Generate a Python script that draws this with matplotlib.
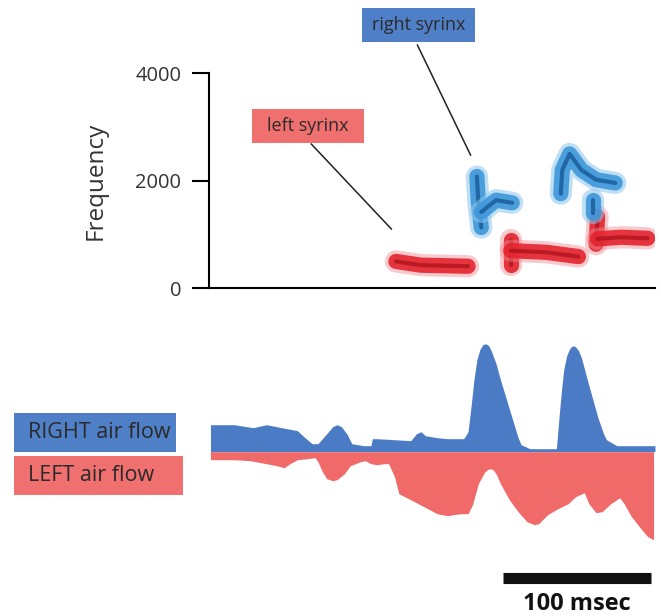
import matplotlib
matplotlib.use('Agg')
import matplotlib.pyplot as plt
from matplotlib.patches import Rectangle

plt.rcParams['font.family'] = ['Open Sans', 'DejaVu Sans']

# --- syllable traces (time in ms, frequency in Hz)
left_traces = [
    ([127, 144, 161, 176], [500, 430, 420, 410]),
    ([205, 205], [430, 890]),
    ([205, 229, 251], [700, 670, 590]),
    ([263, 264], [820, 1330]),
    ([264, 280, 298], [920, 950, 930]),
]
right_traces = [
    ([182, 183, 185], [2080, 1600, 1130]),
    ([185, 195, 206], [1420, 1640, 1590]),
    ([239, 240, 245, 253, 263, 276], [1760, 2200, 2500, 2200, 2020, 1960]),
    ([261, 261], [1640, 1400]),
]

# --- air flow (time in ms, arbitrary units)
right_t = [1, 17, 30, 39, 53, 60, 66, 70, 74, 77, 80, 84, 87, 90, 94, 97, 101, 105,
           110, 111, 114, 126, 137, 141, 144, 147, 155, 162, 173, 176, 178, 180,
           182, 184, 186, 188, 190, 192, 195, 198, 205, 210, 212, 218, 223, 230,
           236, 238, 239.5, 241, 243, 245, 247, 249, 251, 253, 257, 264, 268, 270,
           277, 289, 303]
right_flow = [27, 27, 24, 27, 23, 21, 13, 8, 8, 13, 18, 25, 27, 25, 17, 8, 7, 6,
              6, 13, 13, 12, 11, 18, 20, 16, 14, 13, 13, 20, 45, 72,
              92, 102, 107, 108, 106, 100, 88, 72, 38, 14, 7, 3, 3, 3,
              3, 38, 62, 82, 96, 103, 106, 105, 101, 94, 72, 35, 18, 12,
              6, 6, 6]
left_t = [1, 17, 28, 39, 46, 51, 55, 60, 67, 72, 74, 77, 80, 84, 87, 92, 96, 103,
          106, 110, 114, 119, 122, 126, 129, 137, 146, 155, 162, 166, 171, 176,
          179, 183, 187, 189, 191, 193, 195, 198, 204, 210, 216, 221, 224, 230,
          237, 244, 249, 255, 258, 263, 267, 273, 279, 282, 287, 294, 298, 302]
left_flow = [-8, -8, -9, -12, -14, -16, -12, -8, -7, -6, -10, -20, -27, -29, -28,
             -22, -14, -10, -9, -12, -13, -12, -12, -25, -42, -48, -55, -62, -64,
             -63, -62, -62, -53, -32, -21, -18, -17, -18, -22, -32, -48, -60, -70,
             -73, -72, -63, -57, -52, -45, -41, -52, -61, -60, -52, -46, -52, -65,
             -78, -85, -88]

fig = plt.figure(figsize=(6.61, 6.16), dpi=100)
W, H = 661, 616

def fbox(x0, y0, x1, y1):
    return [x0 / W, 1 - y1 / H, (x1 - x0) / W, (y1 - y0) / H]

# ---------- top: sonogram ----------
ax = fig.add_axes(fbox(209, 73.3, 655, 288.3))
for t, f in left_traces:
    ax.plot(t, f, color='#f28a90', lw=16, solid_capstyle='round', alpha=0.45)
    ax.plot(t, f, color='#e3242e', lw=11, solid_capstyle='round', alpha=0.9)
    ax.plot(t, f, color='#a8101a', lw=3, solid_capstyle='round', alpha=0.7)
for t, f in right_traces:
    ax.plot(t, f, color='#8cc6ee', lw=16, solid_capstyle='round', alpha=0.55)
    ax.plot(t, f, color='#3f97da', lw=11, solid_capstyle='round', alpha=0.9)
    ax.plot(t, f, color='#10508f', lw=3, solid_capstyle='round', alpha=0.7)

ax.set_xlim(0, 303)
ax.set_ylim(0, 4000)
ax.set_yticks([0, 2000, 4000])
ax.set_xticks([])
for s in ['top', 'right']:
    ax.spines[s].set_visible(False)
for s in ['left', 'bottom']:
    ax.spines[s].set_linewidth(1.5)
ax.tick_params(axis='y', length=12, width=1.5, pad=8, labelsize=14.5, labelcolor='#333333')
ax.set_ylabel('Frequency', fontsize=17.5, color='#333333', labelpad=20)

# callout lines
ax.plot([141.6, 177.7], [4525, 2479], color='#222222', lw=1.1, clip_on=False)
ax.plot([69.5, 123.9], [2684, 1103], color='#222222', lw=1.1, clip_on=False)

def label_box(x0, y0, x1, y1, color, text, size, tx=None):
    fig.patches.append(Rectangle((x0 / W, 1 - y1 / H), (x1 - x0) / W, (y1 - y0) / H,
                                 transform=fig.transFigure, facecolor=color,
                                 edgecolor='none'))
    if tx is None:
        fig.text((x0 + x1) / 2 / W, 1 - (y0 + y1) / 2 / H, text, ha='center',
                 va='center', fontsize=size, color='#2a2a2a')
    else:
        fig.text(tx / W, 1 - (y0 + y1) / 2 / H, text, ha='left',
                 va='center', fontsize=size, color='#2a2a2a')

label_box(362, 8, 475, 42, '#4f7fc7', 'right syrinx', 13)
label_box(252, 109, 364, 143, '#f06f6f', 'left syrinx', 13)

# ---------- bottom: air flow ----------
bx = fig.add_axes(fbox(209, 335, 655, 616))
bx.fill_between(right_t, 0, right_flow, color='#4a7bc4', lw=0)
bx.fill_between(left_t, 0, left_flow, color='#f06a6a', lw=0)
bx.set_xlim(0, 303)
bx.set_ylim(-164.3, 116.7)
bx.axis('off')

# scale bar
bx.plot([200, 300], [-125.8, -125.8], color='#111111', lw=8, solid_capstyle='butt',
        clip_on=False)
bx.text(250, -152, '100 msec', ha='center', va='center', fontsize=17,
        fontweight='bold', color='#111111')

label_box(14, 413, 176, 452, '#4f7fc7', 'RIGHT air flow', 15.5, tx=28)
label_box(14, 456, 183, 495, '#f06f6f', 'LEFT air flow', 15.5, tx=28)

fig.savefig('out.png', dpi=100)
